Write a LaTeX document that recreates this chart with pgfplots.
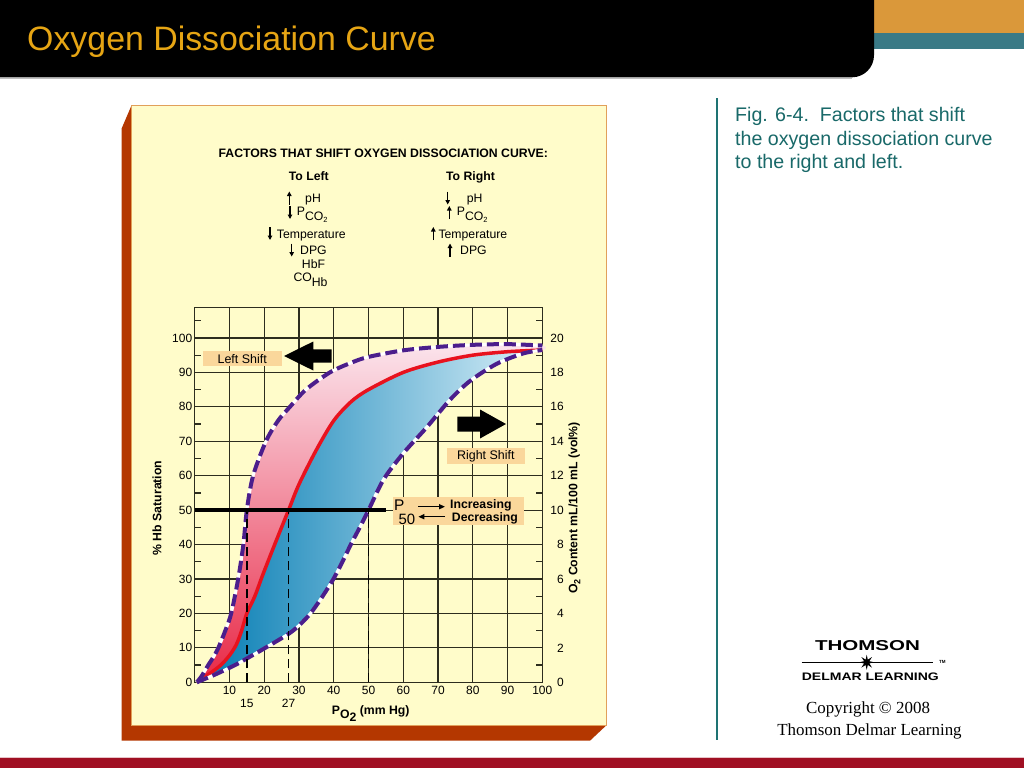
\documentclass[border=0pt]{standalone}
\usepackage{pgfplots}
\pgfplotsset{compat=1.18}
\usetikzlibrary{arrows.meta,shapes.geometric}
\usepackage{fontspec}
\setmainfont{Liberation Sans}
\newfontfamily\timesfont{Liberation Serif}

\definecolor{titlegold}{RGB}{230,165,20}
\definecolor{barorange}{RGB}{218,152,58}
\definecolor{barteal}{RGB}{58,122,134}
\definecolor{textteal}{RGB}{25,105,105}
\definecolor{lineteal}{RGB}{30,115,115}
\definecolor{botred}{RGB}{160,15,35}
\definecolor{panel}{RGB}{255,252,202}
\definecolor{panelside}{RGB}{180,55,0}
\definecolor{paneledge}{RGB}{225,160,90}
\definecolor{tagfill}{RGB}{250,215,155}
\definecolor{gridc}{RGB}{45,45,30}
\definecolor{dashc}{RGB}{75,30,140}
\definecolor{normred}{RGB}{232,18,30}
\definecolor{pinkbot}{RGB}{232,40,70}
\definecolor{pinkmid}{RGB}{238,105,130}
\definecolor{pinktop}{RGB}{251,228,236}
\definecolor{blueleft}{RGB}{0,122,178}
\definecolor{bluemid}{RGB}{20,148,198}
\definecolor{blueright}{RGB}{222,242,250}

\newcommand{\fs}{\fontsize{12.3}{14}\selectfont}
\newcommand{\T}[3]{\node[anchor=base west, inner sep=0, font=\fs] at (#1,#2) {#3};}
\newcommand{\UP}[2]{\draw[-{Triangle[length=4.5bp,width=4.5bp]}, line width=1.3bp] (#1,#2+6.5) -- (#1,#2-6.5);}
\newcommand{\DN}[2]{\draw[-{Triangle[length=4.5bp,width=4.5bp]}, line width=1.3bp] (#1,#2-6.5) -- (#1,#2+6.5);}

\begin{document}
\begin{tikzpicture}
\begin{scope}[x=1bp,y=-1bp]
\useasboundingbox (0,0) rectangle (1024,768);
\fill[white] (0,0) rectangle (1024,768);
% top bars
\fill[barorange] (860,0) rectangle (1024,32.7);
\fill[barteal] (860,32.7) rectangle (1024,49);
\fill[black] (0,0) -- (874,0) -- (874,55.3) arc[start angle=0,end angle=90,radius=22] -- (0,77.3) -- cycle;
\draw[black!25, line width=0.8] (0,78) -- (852,78);
\node[anchor=base west, inner sep=0, text=titlegold, font=\fontsize{34}{40}\selectfont] at (27,51) {Oxygen Dissociation Curve};
% right side
\draw[lineteal, line width=2] (717,98) -- (717,740);
\node[anchor=base west, inner sep=0, text=textteal, font=\fontsize{19.7}{22}\selectfont] at (735,121.7) {Fig. 6-4.\ \ Factors that shift};
\node[anchor=base west, inner sep=0, text=textteal, font=\fontsize{19.7}{22}\selectfont] at (735,145) {the oxygen dissociation curve};
\node[anchor=base west, inner sep=0, text=textteal, font=\fontsize{19.7}{22}\selectfont] at (735,168.3) {to the right and left.};
% logo
\node[anchor=base, inner sep=0] at (867.5,650) {\resizebox{105bp}{10bp}{\bfseries THOMSON}};
\draw[line width=1] (801.7,662.3) -- (933.3,662.3);
\node[star, star points=8, star point ratio=2.6, fill=black, minimum size=15bp, inner sep=0] at (866.7,662.3) {};
\node[anchor=west, inner sep=0, font=\fontsize{4.5}{5}\selectfont\bfseries] at (939,662.3) {TM};
\node[anchor=base, inner sep=0] at (870.3,680.7) {\resizebox{137bp}{7.6bp}{\bfseries DELMAR LEARNING}};
\node[anchor=base, inner sep=0, font=\timesfont\fontsize{17}{20}\selectfont] at (868,713.3) {Copyright \textcopyright\ 2008};
\node[anchor=base, inner sep=0, font=\timesfont\fontsize{17}{20}\selectfont] at (869.5,735) {Thomson Delmar Learning};
% bottom bar
\fill[botred] (0,758.3) rectangle (1024,768);
\draw[botred!25, line width=0.8] (0,757.5) -- (1024,757.5);
% panel
\fill[panelside] (121.7,128.3) -- (131.7,105) -- (131.7,725) -- (606.7,725) -- (590,740.7) -- (121.7,740.7) -- cycle;
\filldraw[fill=panel, draw=paneledge, line width=1] (131.7,105) rectangle (606.7,725);
% panel header
\node[anchor=base, inner sep=0, font=\fs\bfseries] at (383.3,157.3) {FACTORS THAT SHIFT OXYGEN DISSOCIATION CURVE:};
\node[anchor=base, inner sep=0, font=\fs\bfseries] at (308.8,180.7) {To Left};
\node[anchor=base, inner sep=0, font=\fs\bfseries] at (470.5,180.7) {To Right};
% left list
\UP{289.3}{198} \T{305}{202.7}{pH}
\DN{290}{212.5} \T{296.7}{215}{P\raisebox{-5.7bp}{CO}\raisebox{-7.5bp}{\fontsize{7.5}{8}\selectfont 2}}
\DN{270}{233.5} \T{276.7}{238.1}{Temperature}
\DN{291.7}{250} \T{300}{254.3}{DPG}
\T{301.7}{268.3}{HbF}
\T{293.3}{281.7}{CO\raisebox{-5bp}{Hb}}
% right list
\DN{447.7}{198} \T{466.7}{202.7}{pH}
\UP{449.3}{212.5} \T{456.7}{215}{P\raisebox{-5.7bp}{CO}\raisebox{-7.5bp}{\fontsize{7.5}{8}\selectfont 2}}
\UP{433.3}{233.5} \T{438.3}{238.1}{Temperature}
\UP{450}{250} \T{460}{254.3}{DPG}
% axis labels
\node[rotate=90, inner sep=0, font=\fs\bfseries] at (157,508) {\% Hb Saturation};
\node[anchor=base west, inner sep=0, font=\fs\bfseries] at (331.7,714.3) {P\raisebox{-4bp}{O\raisebox{-3.4bp}{2}} (mm Hg)};
\node[rotate=90, inner sep=0, font=\fs\bfseries] at (574.5,508) {O\raisebox{-3bp}{\fontsize{9}{9}\selectfont 2} Content mL/100 mL (vol\%)};
\end{scope}

\begin{axis}[
  at={(194.7bp,-682.3bp)}, anchor=south west,
  scale only axis, width=347.6bp, height=375bp,
  xmin=0, xmax=100, ymin=0, ymax=108.9,
  xtick={10,20,...,100}, ytick={0,10,...,100},
  minor ytick={5,15,...,105},
  grid=major,
  major grid style={gridc, line width=1.2bp},
  axis line style={gridc, line width=1.2bp},
  major tick length=0pt,
  minor tick length=6bp,
  minor tick style={gridc, line width=1.2bp},
  tick align=inside,
  extra x ticks={15,27},
  extra x tick style={grid=none, xticklabel style={yshift=-13bp}},
  ticklabel style={font=\fontsize{12}{12}\selectfont},
  /pgf/number format/assume math mode=true,
  yticklabel style={xshift=1bp},
  clip=false,
]
% pink area between left-shift and normal curves
\addplot[draw=none, smooth, top color=pinktop, middle color=pinkmid, bottom color=pinkbot] coordinates {
(0.6,0) (2,1.8) (3.9,5) (5.5,7.5) (6.8,10) (8.8,15) (10.5,20) (12.5,30) (14,40) (15,50) (16.8,60) (20.5,70) (24,76) (27.4,80) (32,85) (38.9,90) (45,92.8) (50,94.5) (60,96.4) (70,97.4) (80,98) (90,98.2) (100,97.8)
(100,96.5) (90,96) (80,95) (70,93) (60,90) (50,85) (45,81.5) (40,76) (35,67.5) (30,57.5) (27,50) (23,40) (19.5,31) (17.3,25) (15,20) (13.5,15) (12,11) (10,7.8) (7.5,5) (4.4,2.6) (0.6,0)};
% blue area between normal and right-shift curves
\addplot[draw=none, smooth, left color=blueleft, middle color=bluemid, right color=blueright] coordinates {
(0.6,0) (4.4,2.6) (7.5,5) (10,7.8) (12,11) (13.5,15) (15,20) (17.3,25) (19.5,31) (23,40) (27,50) (30,57.5) (35,67.5) (40,76) (45,81.5) (50,85) (60,90) (70,93) (80,95) (90,96) (100,96.5)
(100,96.5) (94.5,95.5) (86.9,92.5) (79.2,87.5) (73.4,82) (66.7,74) (60,66.5) (54.4,59) (50,50) (47.5,45) (44.9,40) (42.5,35) (39.9,30) (36.8,25) (33.3,20) (30,16.5) (26.9,14) (20.3,10) (16,7.5) (11.6,5) (6.4,2.5) (0.6,0)};
% normal curve
\addplot[normred, line width=3.5bp, smooth] coordinates {
(0.6,0) (4.4,2.6) (7.5,5) (10,7.8) (12,11) (13.5,15) (15,20) (17.3,25) (19.5,31) (23,40) (27,50) (30,57.5) (35,67.5) (40,76) (45,81.5) (50,85) (60,90) (70,93) (80,95) (90,96) (100,96.5)};
% left shift curve
\addplot[white, line width=3bp, smooth] coordinates {
(0.6,0) (2,1.8) (3.9,5) (5.5,7.5) (6.8,10) (8.8,15) (10.5,20) (12.5,30) (14,40) (15,50) (16.8,60) (20.5,70) (24,76) (27.4,80) (32,85) (38.9,90) (45,92.8) (50,94.5) (60,96.4) (70,97.4) (80,98) (90,98.2) (100,97.8)};
\addplot[dashc, line width=4bp, dash pattern=on 12bp off 5bp, smooth] coordinates {
(0.6,0) (2,1.8) (3.9,5) (5.5,7.5) (6.8,10) (8.8,15) (10.5,20) (12.5,30) (14,40) (15,50) (16.8,60) (20.5,70) (24,76) (27.4,80) (32,85) (38.9,90) (45,92.8) (50,94.5) (60,96.4) (70,97.4) (80,98) (90,98.2) (100,97.8)};
% right shift curve
\addplot[white, line width=3bp, smooth] coordinates {
(0.6,0) (6.4,2.5) (11.6,5) (16,7.5) (20.3,10) (26.9,14) (30,16.5) (33.3,20) (36.8,25) (39.9,30) (42.5,35) (44.9,40) (47.5,45) (50,50) (54.4,59) (60,66.5) (66.7,74) (73.4,82) (79.2,87.5) (86.9,92.5) (94.5,95.5) (100,96.5)};
\addplot[dashc, line width=4bp, dash pattern=on 12bp off 5bp, smooth] coordinates {
(0.6,0) (6.4,2.5) (11.6,5) (16,7.5) (20.3,10) (26.9,14) (30,16.5) (33.3,20) (36.8,25) (39.9,30) (42.5,35) (44.9,40) (47.5,45) (50,50) (54.4,59) (60,66.5) (66.7,74) (73.4,82) (79.2,87.5) (86.9,92.5) (94.5,95.5) (100,96.5)};
% P50 lines
\addplot[black, line width=1.8bp, dash pattern=on 9bp off 5bp] coordinates {(15,0) (15,50)};
\addplot[black, line width=1.8bp, dash pattern=on 9bp off 5bp] coordinates {(27,0) (27,50)};
\addplot[black, line width=1.8bp, dash pattern=on 9bp off 5bp] coordinates {(50,0) (50,50)};
\addplot[black, line width=3.5bp] coordinates {(0,50) (55,50)};
\end{axis}

\begin{axis}[
  at={(194.7bp,-682.3bp)}, anchor=south west,
  scale only axis, width=347.6bp, height=375bp,
  xmin=0, xmax=100, ymin=0, ymax=21.78,
  axis x line=none, axis y line*=right,
  axis line style={draw=none},
  ytick={0,2,...,20}, major tick length=0pt,
  ticklabel style={font=\fontsize{12}{12}\selectfont},
  /pgf/number format/assume math mode=true,
  yticklabel style={anchor=east, xshift=25bp},
]
\addplot[draw=none] coordinates {(0,0)};
\end{axis}

\begin{scope}[x=1bp,y=-1bp]
% tags
\fill[tagfill] (202.7,350.7) rectangle (281.7,366);
\node[font=\fontsize{12.5}{14}\selectfont, inner sep=0] at (242.2,358.8) {Left Shift};
\fill[black] (284,356) -- (313.3,341.5) -- (313.3,349.3) -- (331.7,349.3) -- (331.7,362.7) -- (313.3,362.7) -- (313.3,370.5) -- cycle;
\fill[black] (457.3,416.5) -- (480,416.5) -- (480,409.5) -- (506,424) -- (480,438.5) -- (480,431.5) -- (457.3,431.5) -- cycle;
\fill[tagfill] (446.7,448.3) rectangle (525,464);
\node[font=\fontsize{12.5}{14}\selectfont, inner sep=0] at (485.8,456.7) {Right Shift};
\fill[tagfill] (392.7,497.3) rectangle (524,525);
\node[anchor=base west, inner sep=0, font=\fontsize{15.5}{16}\selectfont] at (394,510.7) {P};
\node[anchor=base west, inner sep=0, font=\fontsize{15}{16}\selectfont] at (398.3,524) {50};
\draw[-{Triangle[length=6bp,width=5bp]}, line width=1.5bp] (418.3,506.7) -- (445,506.7);
\draw[-{Triangle[length=6bp,width=5bp]}, line width=1.5bp] (445,516.7) -- (418.3,516.7);
\node[anchor=base west, inner sep=0, font=\fs\bfseries] at (450,508.3) {Increasing};
\node[anchor=base west, inner sep=0, font=\fs\bfseries] at (451.7,521.7) {Decreasing};
\end{scope}
\end{tikzpicture}
\end{document}
